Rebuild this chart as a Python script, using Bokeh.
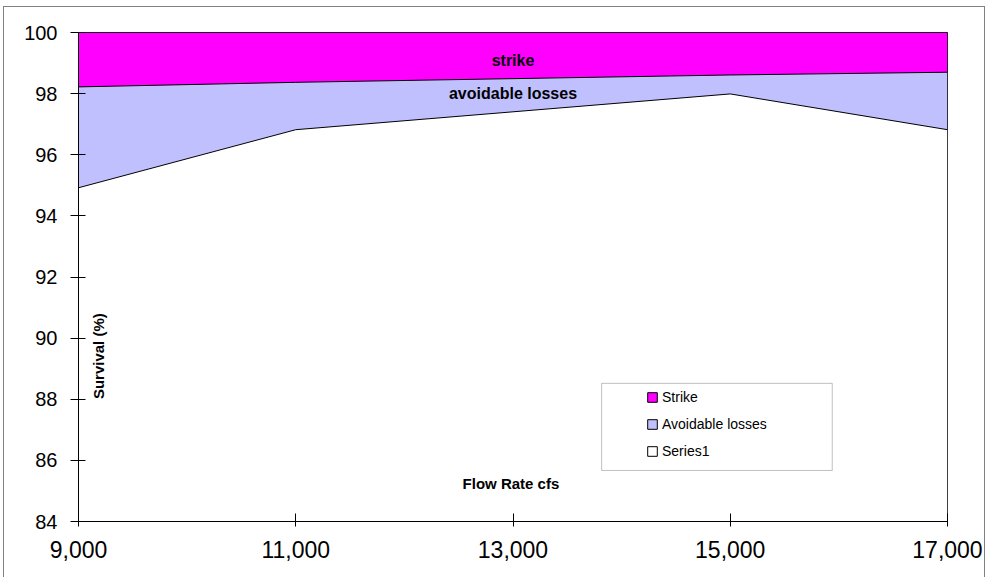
import math

from bokeh.embed import file_html
from bokeh.models import (BoxAnnotation, ColumnDataSource, FixedTicker, Label,
                          Legend, LegendItem, NumeralTickFormatter, Range1d)
from bokeh.plotting import figure
from bokeh.resources import INLINE

# Survival by flow rate, split into three stacked components
flow_cfs = [9000, 11000, 15000, 17000]
series1 = [94.92, 96.82, 97.99, 96.82]
avoidable_losses = [3.30, 1.55, 0.62, 1.88]
strike = [1.78, 1.63, 1.39, 1.30]

x_ticks = [9000, 11000, 13000, 15000, 17000]
y_ticks = [84, 86, 88, 90, 92, 94, 96, 98, 100]
y_floor = 84

FONT = "Liberation Sans"
STRIKE_COLOR = "#FF00FF"
AVOID_COLOR = "#C0C0FF"
SERIES1_COLOR = "#FFFFFF"

# cumulative stack tops
top1 = list(series1)
top2 = [a + b for a, b in zip(top1, avoidable_losses)]
top3 = [a + b for a, b in zip(top2, strike)]
base = [y_floor] * len(flow_cfs)

src = ColumnDataSource(dict(x=flow_cfs, base=base, top1=top1, top2=top2, top3=top3))

p = figure(width=980, height=570,
           x_range=Range1d(x_ticks[0], x_ticks[-1]),
           y_range=Range1d(y_ticks[0], y_ticks[-1]),
           output_backend="svg", toolbar_location=None,
           min_border_left=74, min_border_right=39,
           min_border_top=25, min_border_bottom=57)

# thin grey chart border around the whole canvas (open at the bottom edge)
p.styles = {
    "border-top": "1px solid #808080",
    "border-left": "1px solid #808080",
    "border-right": "1px solid #808080",
    "margin-left": "3px",
    "margin-top": "6px",
    "box-sizing": "content-box",
}

p.background_fill_color = "white"
p.border_fill_color = "white"
p.outline_line_color = "black"
p.outline_line_width = 1
p.xgrid.visible = False
p.ygrid.visible = False

# stacked areas
p.varea(x="x", y1="base", y2="top1", source=src, fill_color=SERIES1_COLOR)
p.varea(x="x", y1="top1", y2="top2", source=src, fill_color=AVOID_COLOR)
p.varea(x="x", y1="top2", y2="top3", source=src, fill_color=STRIKE_COLOR)

# boundaries between the stacked bands
for col in ("top1", "top2", "top3"):
    p.line(x="x", y=col, source=src, line_color="black", line_width=1)

# axes
p.xaxis.ticker = FixedTicker(ticks=x_ticks)
p.xaxis.formatter = NumeralTickFormatter(format="0,0")
p.yaxis.ticker = FixedTicker(ticks=y_ticks)
for ax in (p.xaxis[0], p.yaxis[0]):
    ax.axis_line_color = "black"
    ax.major_tick_line_color = "black"
    ax.minor_tick_line_color = None
    ax.major_label_text_font = FONT
    ax.major_label_text_color = "black"
p.xaxis.major_label_text_font_size = "23px"
p.yaxis.major_label_text_font_size = "20px"
p.xaxis.major_tick_in = 8
p.xaxis.major_tick_out = 5
p.xaxis.major_label_standoff = 14
p.yaxis.major_tick_in = 7
p.yaxis.major_tick_out = 8
p.yaxis.major_label_standoff = 13

# in-plot text
def bold_label(x, y, text, size, angle=0.0, baseline="alphabetic"):
    p.add_layout(Label(x=x, y=y, text=text, text_align="center",
                       text_baseline=baseline, angle=angle,
                       text_font=FONT, text_font_style="bold",
                       text_font_size=size, text_color="black"))

bold_label(13000, 99.09, "strike", "16px")
bold_label(13000, 97.99, "avoidable losses", "16px")
bold_label(13000, 85.25, "Flow Rate  cfs", "15px")
bold_label(9185, 89.41, "Survival (%)", "15px", angle=math.pi / 2, baseline="middle")

# legend swatches (outlined squares)
nan = float("nan")
swatches = []
for color in (STRIKE_COLOR, AVOID_COLOR, SERIES1_COLOR):
    swatches.append(p.quad(left=[nan], right=[nan], top=[nan], bottom=[nan],
                           fill_color=color, line_color="black", line_width=1))

p.add_layout(BoxAnnotation(left=13816, right=15939, top=88.52, bottom=85.67,
                           fill_color="white", fill_alpha=1.0,
                           line_color="#303030", line_width=1))

legend = Legend(items=[LegendItem(label="Strike", renderers=[swatches[0]]),
                       LegendItem(label="Avoidable losses", renderers=[swatches[1]]),
                       LegendItem(label="Series1", renderers=[swatches[2]])],
                location=(568, 60), padding=0, margin=0,
                border_line_alpha=0, background_fill_alpha=0,
                glyph_width=12, glyph_height=12, label_height=20,
                spacing=7, label_standoff=4,
                label_text_font=FONT, label_text_font_size="14px",
                label_text_color="black")
p.add_layout(legend)

open("out.html", "w").write(file_html(p, INLINE))
